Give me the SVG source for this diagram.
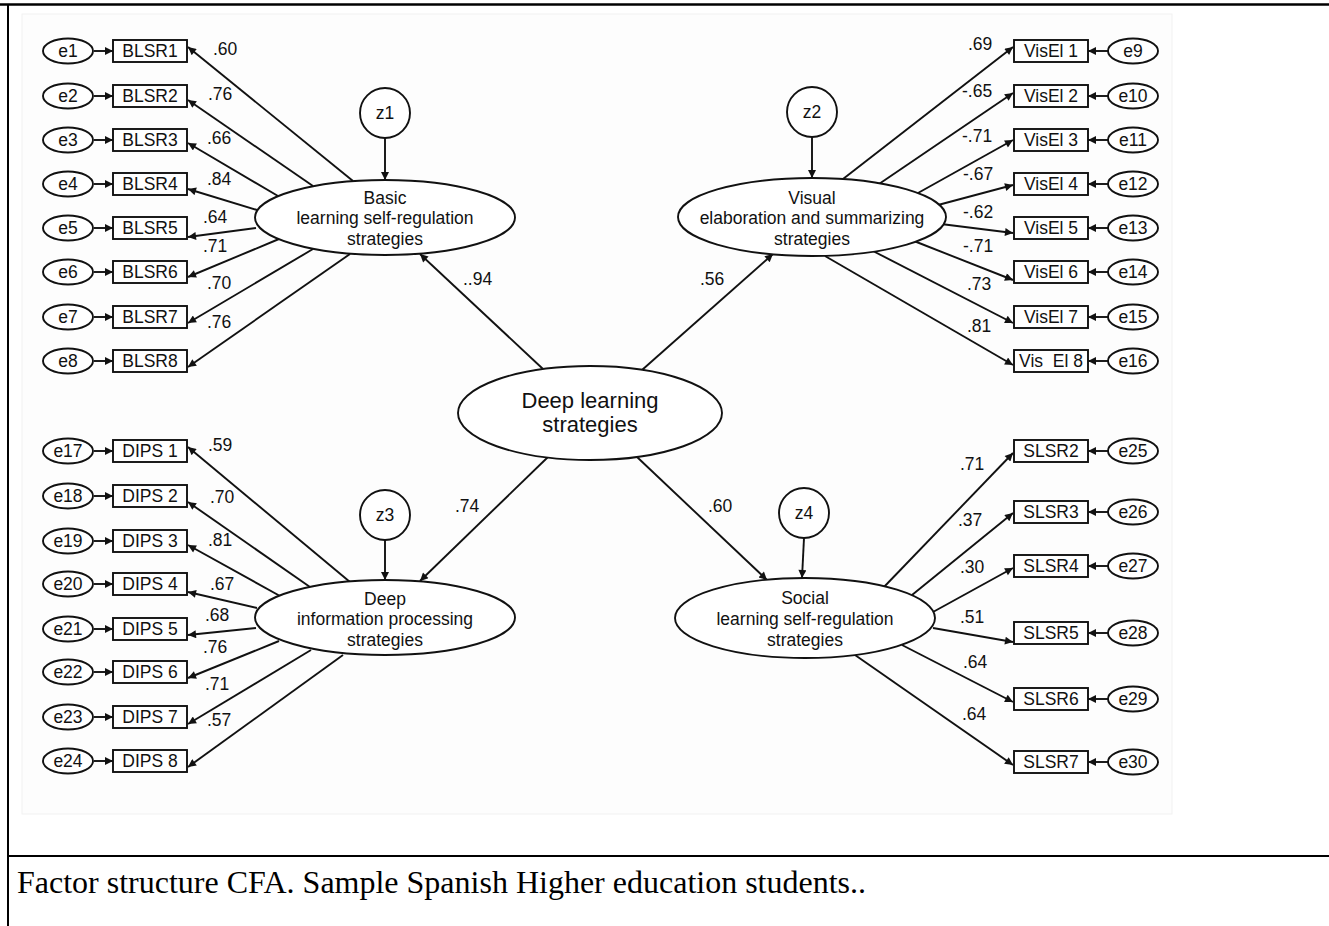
<svg xmlns="http://www.w3.org/2000/svg" width="1329" height="926" viewBox="0 0 1329 926">
<style>
.t{font-family:"Liberation Sans",Arial,sans-serif;font-size:17.5px;fill:#111}
.c{text-anchor:middle}
.big{font-size:22px}
.cap{font-family:"Liberation Serif","Times New Roman",serif;font-size:32px;fill:#000}
.sh{fill:#fff;stroke:#111;stroke-width:1.9}
.ln{stroke:#111;stroke-width:1.9;fill:none;marker-end:url(#ah)}
.fr{stroke:#000;fill:none}
</style>
<defs>
<marker id="ah" viewBox="0 0 10 10" refX="10" refY="5" markerWidth="12" markerHeight="8" markerUnits="userSpaceOnUse" orient="auto"><path d="M0,0 L10,5 L0,10 z" fill="#111"/></marker>
</defs>
<rect x="0" y="0" width="1329" height="926" fill="#fff"/>
<rect x="22" y="14" width="1150" height="800" fill="#fdfdfd" stroke="#f1f1f1"/>
<line class="fr" x1="0" y1="4.5" x2="1329" y2="4.5" stroke-width="2.5"/>
<line class="fr" x1="8" y1="4" x2="8" y2="926" stroke-width="2"/>
<line class="fr" x1="8" y1="856" x2="1329" y2="856" stroke-width="2"/>
<text class="cap" x="17" y="893">Factor structure CFA. Sample Spanish Higher education students..</text>

<g id="connectors">
<!-- error arrows left -->
<line class="ln" x1="94" y1="51" x2="113" y2="51"/><line class="ln" x1="94" y1="96" x2="113" y2="96"/><line class="ln" x1="94" y1="140" x2="113" y2="140"/><line class="ln" x1="94" y1="184" x2="113" y2="184"/><line class="ln" x1="94" y1="228" x2="113" y2="228"/><line class="ln" x1="94" y1="272" x2="113" y2="272"/><line class="ln" x1="94" y1="317" x2="113" y2="317"/><line class="ln" x1="94" y1="361" x2="113" y2="361"/>
<line class="ln" x1="94" y1="451" x2="113" y2="451"/><line class="ln" x1="94" y1="496" x2="113" y2="496"/><line class="ln" x1="94" y1="541" x2="113" y2="541"/><line class="ln" x1="94" y1="584" x2="113" y2="584"/><line class="ln" x1="94" y1="629" x2="113" y2="629"/><line class="ln" x1="94" y1="672" x2="113" y2="672"/><line class="ln" x1="94" y1="717" x2="113" y2="717"/><line class="ln" x1="94" y1="761" x2="113" y2="761"/>
<!-- error arrows right -->
<line class="ln" x1="1108" y1="51" x2="1088" y2="51"/><line class="ln" x1="1108" y1="96" x2="1088" y2="96"/><line class="ln" x1="1108" y1="140" x2="1088" y2="140"/><line class="ln" x1="1108" y1="184" x2="1088" y2="184"/><line class="ln" x1="1108" y1="228" x2="1088" y2="228"/><line class="ln" x1="1108" y1="272" x2="1088" y2="272"/><line class="ln" x1="1108" y1="317" x2="1088" y2="317"/><line class="ln" x1="1108" y1="361" x2="1088" y2="361"/>
<line class="ln" x1="1108" y1="451" x2="1088" y2="451"/><line class="ln" x1="1108" y1="512" x2="1088" y2="512"/><line class="ln" x1="1108" y1="566" x2="1088" y2="566"/><line class="ln" x1="1108" y1="633" x2="1088" y2="633"/><line class="ln" x1="1108" y1="699" x2="1088" y2="699"/><line class="ln" x1="1108" y1="762" x2="1088" y2="762"/>
<!-- BLSR loadings -->
<line class="ln" x1="353" y1="181" x2="188" y2="47"/>
<line class="ln" x1="313" y1="186" x2="188" y2="100"/>
<line class="ln" x1="278" y1="196" x2="188" y2="143"/>
<line class="ln" x1="257" y1="210" x2="188" y2="189"/>
<line class="ln" x1="256" y1="228" x2="188" y2="237"/>
<line class="ln" x1="279" y1="239" x2="188" y2="277"/>
<line class="ln" x1="313" y1="249" x2="188" y2="323"/>
<line class="ln" x1="350" y1="254" x2="188" y2="367"/>
<!-- DIPS loadings -->
<line class="ln" x1="350" y1="582" x2="188" y2="447"/>
<line class="ln" x1="310" y1="587" x2="188" y2="502"/>
<line class="ln" x1="280" y1="596" x2="188" y2="545"/>
<line class="ln" x1="257" y1="608" x2="188" y2="592"/>
<line class="ln" x1="256" y1="628" x2="188" y2="635"/>
<line class="ln" x1="279" y1="641" x2="188" y2="678"/>
<line class="ln" x1="311" y1="650" x2="188" y2="724"/>
<line class="ln" x1="343" y1="655" x2="188" y2="767"/>
<!-- VisEl loadings -->
<line class="ln" x1="843" y1="179" x2="1013" y2="47"/>
<line class="ln" x1="879" y1="184" x2="1013" y2="93"/>
<line class="ln" x1="918" y1="193" x2="1013" y2="140"/>
<line class="ln" x1="938" y1="205" x2="1013" y2="185"/>
<line class="ln" x1="941" y1="224" x2="1013" y2="233"/>
<line class="ln" x1="914" y1="241" x2="1013" y2="280"/>
<line class="ln" x1="873" y1="251" x2="1013" y2="323"/>
<line class="ln" x1="825" y1="256" x2="1013" y2="365"/>
<!-- SLSR loadings -->
<line class="ln" x1="883" y1="588" x2="1013" y2="453"/>
<line class="ln" x1="912" y1="595" x2="1013" y2="513"/>
<line class="ln" x1="933" y1="612" x2="1013" y2="568"/>
<line class="ln" x1="933" y1="628" x2="1013" y2="642"/>
<line class="ln" x1="902" y1="645" x2="1013" y2="702"/>
<line class="ln" x1="855" y1="655" x2="1013" y2="765"/>
<!-- second order -->
<line class="ln" x1="543" y1="369" x2="420" y2="254"/>
<line class="ln" x1="642" y1="370" x2="773" y2="254"/>
<line class="ln" x1="548" y1="457" x2="420" y2="581"/>
<line class="ln" x1="637" y1="457" x2="767" y2="580"/>
<!-- disturbances -->
<line class="ln" x1="385" y1="138" x2="385" y2="180"/>
<line class="ln" x1="812" y1="137" x2="812" y2="178"/>
<line class="ln" x1="385" y1="540" x2="385" y2="580"/>
<line class="ln" x1="804" y1="538" x2="802" y2="578"/>
<!-- loading labels -->
<g class="t">
<text x="213" y="55">.60</text><text x="208" y="100">.76</text><text x="207" y="144">.66</text><text x="207" y="185">.84</text><text x="203" y="223">.64</text><text x="203" y="252">.71</text><text x="207" y="289">.70</text><text x="207" y="328">.76</text>
<text x="208" y="451">.59</text><text x="210" y="503">.70</text><text x="208" y="546">.81</text><text x="210" y="590">.67</text><text x="205" y="621">.68</text><text x="203" y="653">.76</text><text x="205" y="690">.71</text><text x="207" y="726">.57</text>
<text x="968" y="50">.69</text><text x="962" y="97">-.65</text><text x="962" y="142">-.71</text><text x="963" y="180">-.67</text><text x="963" y="218">-.62</text><text x="963" y="252">-.71</text><text x="967" y="290">.73</text><text x="967" y="332">.81</text>
<text x="960" y="470">.71</text><text x="958" y="526">.37</text><text x="960" y="573">.30</text><text x="960" y="623">.51</text><text x="963" y="668">.64</text><text x="962" y="720">.64</text>
<text x="463" y="285">..94</text><text x="700" y="285">.56</text><text x="455" y="512">.74</text><text x="708" y="512">.60</text>
</g>
</g>

<g id="errors-left">
<ellipse class="sh" cx="68" cy="51" rx="25" ry="12.5"/><text class="t c" x="68" y="57">e1</text>
<ellipse class="sh" cx="68" cy="96" rx="25" ry="12.5"/><text class="t c" x="68" y="102">e2</text>
<ellipse class="sh" cx="68" cy="140" rx="25" ry="12.5"/><text class="t c" x="68" y="146">e3</text>
<ellipse class="sh" cx="68" cy="184" rx="25" ry="12.5"/><text class="t c" x="68" y="190">e4</text>
<ellipse class="sh" cx="68" cy="228" rx="25" ry="12.5"/><text class="t c" x="68" y="234">e5</text>
<ellipse class="sh" cx="68" cy="272" rx="25" ry="12.5"/><text class="t c" x="68" y="278">e6</text>
<ellipse class="sh" cx="68" cy="317" rx="25" ry="12.5"/><text class="t c" x="68" y="323">e7</text>
<ellipse class="sh" cx="68" cy="361" rx="25" ry="12.5"/><text class="t c" x="68" y="367">e8</text>
<ellipse class="sh" cx="68" cy="451" rx="25" ry="12.5"/><text class="t c" x="68" y="457">e17</text>
<ellipse class="sh" cx="68" cy="496" rx="25" ry="12.5"/><text class="t c" x="68" y="502">e18</text>
<ellipse class="sh" cx="68" cy="541" rx="25" ry="12.5"/><text class="t c" x="68" y="547">e19</text>
<ellipse class="sh" cx="68" cy="584" rx="25" ry="12.5"/><text class="t c" x="68" y="590">e20</text>
<ellipse class="sh" cx="68" cy="629" rx="25" ry="12.5"/><text class="t c" x="68" y="635">e21</text>
<ellipse class="sh" cx="68" cy="672" rx="25" ry="12.5"/><text class="t c" x="68" y="678">e22</text>
<ellipse class="sh" cx="68" cy="717" rx="25" ry="12.5"/><text class="t c" x="68" y="723">e23</text>
<ellipse class="sh" cx="68" cy="761" rx="25" ry="12.5"/><text class="t c" x="68" y="767">e24</text>
</g>
<g id="items-left">
<rect class="sh" x="113" y="40" width="74" height="22"/><text class="t c" x="150" y="57">BLSR1</text>
<rect class="sh" x="113" y="85" width="74" height="22"/><text class="t c" x="150" y="102">BLSR2</text>
<rect class="sh" x="113" y="129" width="74" height="22"/><text class="t c" x="150" y="146">BLSR3</text>
<rect class="sh" x="113" y="173" width="74" height="22"/><text class="t c" x="150" y="190">BLSR4</text>
<rect class="sh" x="113" y="217" width="74" height="22"/><text class="t c" x="150" y="234">BLSR5</text>
<rect class="sh" x="113" y="261" width="74" height="22"/><text class="t c" x="150" y="278">BLSR6</text>
<rect class="sh" x="113" y="306" width="74" height="22"/><text class="t c" x="150" y="323">BLSR7</text>
<rect class="sh" x="113" y="350" width="74" height="22"/><text class="t c" x="150" y="367">BLSR8</text>
<rect class="sh" x="113" y="440" width="74" height="22"/><text class="t c" x="150" y="457">DIPS 1</text>
<rect class="sh" x="113" y="485" width="74" height="22"/><text class="t c" x="150" y="502">DIPS 2</text>
<rect class="sh" x="113" y="530" width="74" height="22"/><text class="t c" x="150" y="547">DIPS 3</text>
<rect class="sh" x="113" y="573" width="74" height="22"/><text class="t c" x="150" y="590">DIPS 4</text>
<rect class="sh" x="113" y="618" width="74" height="22"/><text class="t c" x="150" y="635">DIPS 5</text>
<rect class="sh" x="113" y="661" width="74" height="22"/><text class="t c" x="150" y="678">DIPS 6</text>
<rect class="sh" x="113" y="706" width="74" height="22"/><text class="t c" x="150" y="723">DIPS 7</text>
<rect class="sh" x="113" y="750" width="74" height="22"/><text class="t c" x="150" y="767">DIPS 8</text>
</g>
<g id="items-right">
<rect class="sh" x="1014" y="40" width="74" height="22"/><text class="t c" x="1051" y="57">VisEl 1</text>
<rect class="sh" x="1014" y="85" width="74" height="22"/><text class="t c" x="1051" y="102">VisEl 2</text>
<rect class="sh" x="1014" y="129" width="74" height="22"/><text class="t c" x="1051" y="146">VisEl 3</text>
<rect class="sh" x="1014" y="173" width="74" height="22"/><text class="t c" x="1051" y="190">VisEl 4</text>
<rect class="sh" x="1014" y="217" width="74" height="22"/><text class="t c" x="1051" y="234">VisEl 5</text>
<rect class="sh" x="1014" y="261" width="74" height="22"/><text class="t c" x="1051" y="278">VisEl 6</text>
<rect class="sh" x="1014" y="306" width="74" height="22"/><text class="t c" x="1051" y="323">VisEl 7</text>
<rect class="sh" x="1014" y="350" width="74" height="22"/><text class="t c" x="1051" y="367" xml:space="preserve">Vis  El 8</text>
<rect class="sh" x="1014" y="440" width="74" height="22"/><text class="t c" x="1051" y="457">SLSR2</text>
<rect class="sh" x="1014" y="501" width="74" height="22"/><text class="t c" x="1051" y="518">SLSR3</text>
<rect class="sh" x="1014" y="555" width="74" height="22"/><text class="t c" x="1051" y="572">SLSR4</text>
<rect class="sh" x="1014" y="622" width="74" height="22"/><text class="t c" x="1051" y="639">SLSR5</text>
<rect class="sh" x="1014" y="688" width="74" height="22"/><text class="t c" x="1051" y="705">SLSR6</text>
<rect class="sh" x="1014" y="751" width="74" height="22"/><text class="t c" x="1051" y="768">SLSR7</text>
</g>
<g id="errors-right">
<ellipse class="sh" cx="1133" cy="51" rx="25" ry="12.5"/><text class="t c" x="1133" y="57">e9</text>
<ellipse class="sh" cx="1133" cy="96" rx="25" ry="12.5"/><text class="t c" x="1133" y="102">e10</text>
<ellipse class="sh" cx="1133" cy="140" rx="25" ry="12.5"/><text class="t c" x="1133" y="146">e11</text>
<ellipse class="sh" cx="1133" cy="184" rx="25" ry="12.5"/><text class="t c" x="1133" y="190">e12</text>
<ellipse class="sh" cx="1133" cy="228" rx="25" ry="12.5"/><text class="t c" x="1133" y="234">e13</text>
<ellipse class="sh" cx="1133" cy="272" rx="25" ry="12.5"/><text class="t c" x="1133" y="278">e14</text>
<ellipse class="sh" cx="1133" cy="317" rx="25" ry="12.5"/><text class="t c" x="1133" y="323">e15</text>
<ellipse class="sh" cx="1133" cy="361" rx="25" ry="12.5"/><text class="t c" x="1133" y="367">e16</text>
<ellipse class="sh" cx="1133" cy="451" rx="25" ry="12.5"/><text class="t c" x="1133" y="457">e25</text>
<ellipse class="sh" cx="1133" cy="512" rx="25" ry="12.5"/><text class="t c" x="1133" y="518">e26</text>
<ellipse class="sh" cx="1133" cy="566" rx="25" ry="12.5"/><text class="t c" x="1133" y="572">e27</text>
<ellipse class="sh" cx="1133" cy="633" rx="25" ry="12.5"/><text class="t c" x="1133" y="639">e28</text>
<ellipse class="sh" cx="1133" cy="699" rx="25" ry="12.5"/><text class="t c" x="1133" y="705">e29</text>
<ellipse class="sh" cx="1133" cy="762" rx="25" ry="12.5"/><text class="t c" x="1133" y="768">e30</text>
</g>
<g id="z1"><circle class="sh" cx="385" cy="113" r="25"/><text class="t c" x="385" y="119">z1</text></g>
<g id="z2"><circle class="sh" cx="812" cy="112" r="25"/><text class="t c" x="812" y="118">z2</text></g>
<g id="z3"><circle class="sh" cx="385" cy="515" r="25"/><text class="t c" x="385" y="521">z3</text></g>
<g id="z4"><circle class="sh" cx="804" cy="513" r="25"/><text class="t c" x="804" y="519">z4</text></g>
<g id="basic">
<ellipse class="sh" cx="385" cy="217.5" rx="130" ry="37.5"/>
<text class="t c" x="385" y="204">Basic</text><text class="t c" x="385" y="224">learning self-regulation</text><text class="t c" x="385" y="245">strategies</text>
</g>
<g id="visual">
<ellipse class="sh" cx="812" cy="217" rx="134" ry="39"/>
<text class="t c" x="812" y="204">Visual</text><text class="t c" x="812" y="224">elaboration and summarizing</text><text class="t c" x="812" y="245">strategies</text>
</g>
<g id="dips">
<ellipse class="sh" cx="385" cy="617.5" rx="130" ry="37.5"/>
<text class="t c" x="385" y="605">Deep</text><text class="t c" x="385" y="625">information processing</text><text class="t c" x="385" y="646">strategies</text>
</g>
<g id="social">
<ellipse class="sh" cx="805" cy="618" rx="130" ry="40"/>
<text class="t c" x="805" y="604">Social</text><text class="t c" x="805" y="625">learning self-regulation</text><text class="t c" x="805" y="646">strategies</text>
</g>
<g id="deep">
<ellipse class="sh" cx="590" cy="413" rx="132" ry="47"/>
<text class="t c big" x="590" y="408">Deep learning</text><text class="t c big" x="590" y="432">strategies</text>
</g>
</svg>
